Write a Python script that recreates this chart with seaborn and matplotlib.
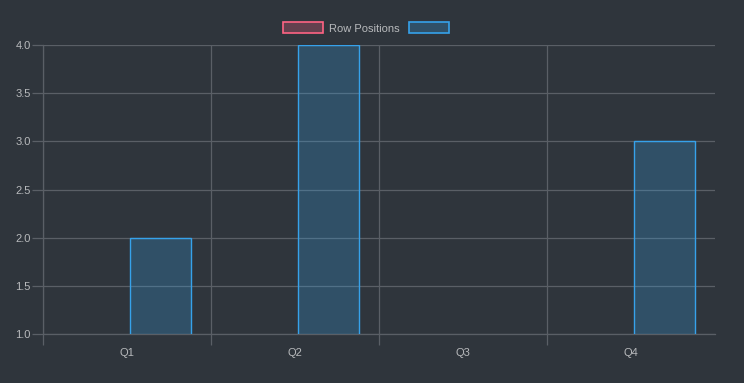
import numpy as np
import pandas as pd
import seaborn as sns
import matplotlib
matplotlib.use("Agg")
import matplotlib.pyplot as plt
from matplotlib.patches import Patch

quarters = ["Q1", "Q2", "Q3", "Q4"]
series_names = ["Row Positions", ""]
row_positions = [np.nan, np.nan, np.nan, np.nan]
second_series = [2, 4, np.nan, 3]
y_ticks = [1.0, 1.5, 2.0, 2.5, 3.0, 3.5, 4.0]

BG = "#2f353c"
GRID = "#5a5f66"
TEXT = "#b8babc"
RED_EDGE = "#ff6384"
BLUE_EDGE = "#36a2eb"
RED_FILL = (1.0, 0.39, 0.52, 0.25)
BLUE_FILL = (0.21, 0.64, 0.92, 0.25)

sns.set_theme(style="dark")
plt.rcParams.update({
    "font.family": ["Liberation Sans", "DejaVu Sans"],
    "font.size": 8,
    "figure.facecolor": BG,
    "axes.facecolor": BG,
})

df = pd.DataFrame({
    "quarter": quarters * 2,
    "series": [series_names[0]] * 4 + ["blue"] * 4,
    "value": row_positions + second_series,
})

fig = plt.figure(figsize=(7.44, 3.83), dpi=100)
ax = fig.add_axes([43 / 744, 1 - 334 / 383, 672 / 744, 289 / 383])

sns.barplot(
    data=df, x="quarter", y="value", hue="series",
    order=quarters, hue_order=[series_names[0], "blue"],
    palette=[RED_FILL, BLUE_FILL], width=0.8, gap=0.1,
    legend=False, ax=ax, zorder=3,
)
edges = {0: RED_EDGE, 1: BLUE_EDGE}
fills = {0: RED_FILL, 1: BLUE_FILL}
for i, cont in enumerate(ax.containers):
    for bar in cont:
        bar.set_edgecolor(edges[i])
        bar.set_linewidth(1.0)
        bar.set_facecolor(fills[i])

ax.set_ylim(1.0, 4.0)
ax.set_xlim(-0.5, 3.5)
ax.set_yticks(y_ticks)
ax.set_yticklabels([f"{t:.1f}" for t in y_ticks])
ax.set_xticks(range(len(quarters)))
ax.set_xticklabels(quarters)
# category boundaries (no line at the far right edge)
ax.set_xticks(np.arange(-0.5, 3.0, 1.0), minor=True)

ax.set_xlabel("")
ax.set_ylabel("")
ax.grid(False)
ax.yaxis.grid(True, color=GRID, linewidth=0.9)
ax.xaxis.grid(True, which="minor", color=GRID, linewidth=0.9)
ax.set_axisbelow(True)

ax.tick_params(axis="y", left=True, length=8, width=0.9, color=GRID,
               labelcolor=TEXT, pad=1, labelsize=8)
ax.tick_params(axis="x", which="major", bottom=True, length=0,
               labelcolor=TEXT, pad=10, labelsize=8)
ax.tick_params(axis="x", which="minor", bottom=True, length=8, width=0.9, color=GRID)

for side in ["top", "right"]:
    ax.spines[side].set_visible(False)
for side in ["left", "bottom"]:
    ax.spines[side].set_color(GRID)
    ax.spines[side].set_linewidth(0.9)

legend_elements = [
    Patch(facecolor=RED_FILL, edgecolor=RED_EDGE, linewidth=1.2, label=series_names[0]),
    Patch(facecolor=BLUE_FILL, edgecolor=BLUE_EDGE, linewidth=1.2, label=series_names[1]),
]
fig.legend(
    handles=legend_elements, loc="center", ncol=2,
    bbox_to_anchor=(0.496, 1 - 28 / 383), frameon=False,
    fontsize=8, labelcolor=TEXT, handlelength=3.6, handleheight=1.1,
    handletextpad=0.5, columnspacing=0.9,
)

fig.savefig("out.png", dpi=100, facecolor=BG)
